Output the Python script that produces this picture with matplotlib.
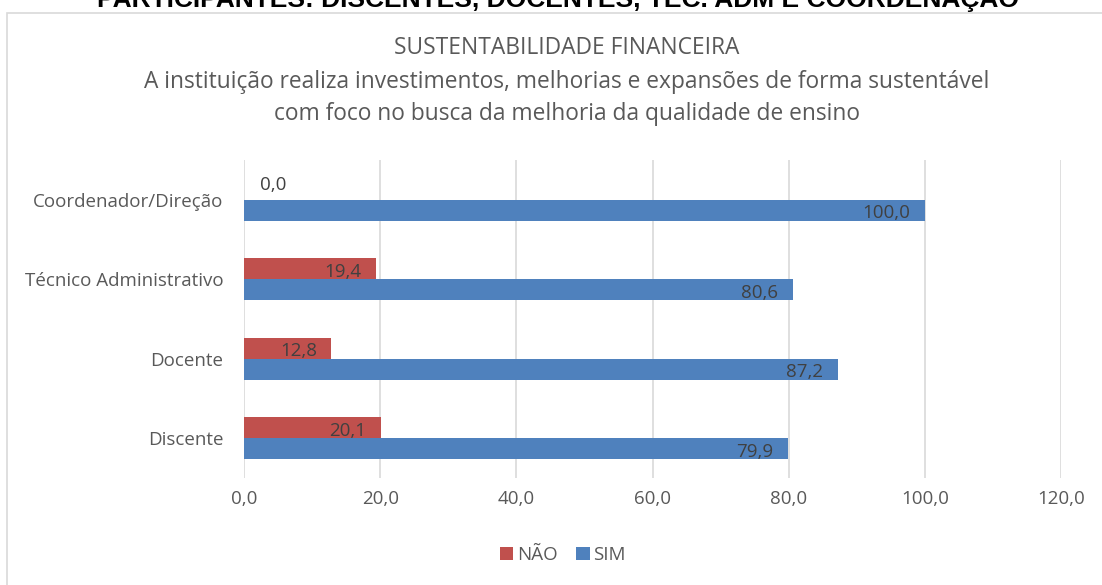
import matplotlib.pyplot as plt
from matplotlib.patches import Rectangle

categorias = ["Discente", "Docente", "Técnico Administrativo", "Coordenador/Direção"]
nao = [20.1, 12.8, 19.4, 0.0]
sim = [79.9, 87.2, 80.6, 100.0]
ticks = [0, 20, 40, 60, 80, 100, 120]

cor_nao = "#C0504D"
cor_sim = "#4F81BD"
cinza = "#595959"
plt.rcParams["font.family"] = ["Open Sans", "DejaVu Sans"]

fig = plt.figure(figsize=(11.02, 5.85), dpi=100)
ax = fig.add_axes([244 / 1102, 1 - 478 / 585, (1061 - 244) / 1102, (478 - 160) / 585])

# moldura do grafico
fig.patches.append(Rectangle((7 / 1102, -0.1), 1.2, 1 - 13 / 585 + 0.1, transform=fig.transFigure,
                             fill=False, edgecolor="#D9D9D9", linewidth=1.2))

# titulo de cima (cortado na imagem original)
fig.text(558 / 1102, 1 - 7 / 585, "PARTICIPANTES: DISCENTES, DOCENTES, TÉC. ADM E COORDENAÇÃO",
         ha="center", va="baseline", fontsize=19, fontweight="bold", family="Liberation Sans")

y = list(range(len(categorias)))
h = 0.265
ax.barh([i + h / 2 for i in y], nao, height=h, color=cor_nao, label="NÃO", zorder=3)
ax.barh([i - h / 2 for i in y], sim, height=h, color=cor_sim, label="SIM", zorder=3)

for i in y:
    for val, off in ((nao[i], h / 2), (sim[i], -h / 2)):
        txt = f"{val:.1f}".replace(".", ",")
        if val == 0:
            ax.text(2.3, i + off + 0.05, txt, ha="left", va="center", fontsize=13.5, color="#404040", zorder=4)
        else:
            ax.text(val - 2.1, i + off - 0.04, txt, ha="right", va="center", fontsize=13.5, color="#404040", zorder=4)

ax.set_xlim(0, 120)
ax.set_ylim(-0.5, 3.5)
ax.set_xticks(ticks)
ax.set_xticklabels([f"{t:.1f}".replace(".", ",") for t in ticks], fontsize=13.5, color=cinza)
ax.set_yticks(y)
ax.set_yticklabels(categorias, fontsize=13.5, color=cinza)
ax.tick_params(length=0, pad=9)
ax.tick_params(axis="y", pad=15)
ax.grid(axis="x", color="#D9D9D9", linewidth=1.2, zorder=0)
for s in ax.spines.values():
    s.set_visible(False)

cx = 567 / 1102
fig.text(cx, 1 - 48 / 585, "SUSTENTABILIDADE FINANCEIRA", ha="center", va="center", fontsize=16.4, color=cinza)
fig.text(cx, 1 - 82 / 585, "A instituição realiza investimentos, melhorias e expansões de forma sustentável",
         ha="center", va="center", fontsize=16.4, color=cinza)
fig.text(cx, 1 - 114 / 585, "com foco no busca da melhoria da qualidade de ensino",
         ha="center", va="center", fontsize=16.4, color=cinza)

ax.legend(loc="center", bbox_to_anchor=(563 / 1102, 1 - 555 / 585), bbox_transform=fig.transFigure,
          ncol=2, frameon=False, fontsize=13.5, handlelength=0.7, handleheight=0.7,
          handletextpad=0.2, columnspacing=1.0, labelcolor=cinza)

fig.savefig("out.png", dpi=100)
